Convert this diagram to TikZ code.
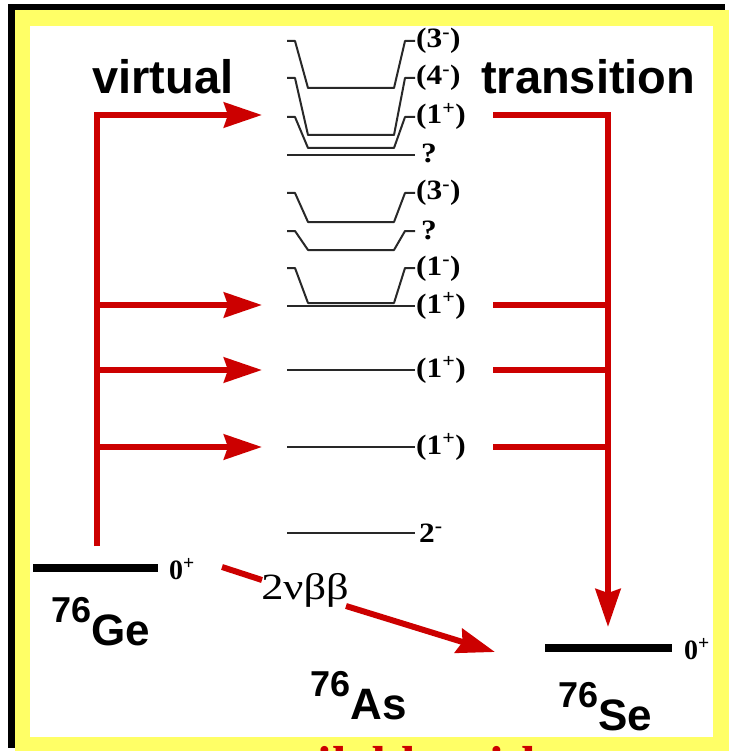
\documentclass[tikz,border=0pt]{standalone}
\usepackage{fontspec}
\setmainfont{Liberation Serif}
\setsansfont{Liberation Sans}
\usetikzlibrary{arrows.meta}
\definecolor{myred}{RGB}{204,0,0}
\definecolor{myyellow}{RGB}{255,255,102}
\definecolor{lvl}{RGB}{40,40,40}
\newcommand\mytrough[2]{%
  \draw[lvline] (287,#1) -- (295,#1) -- (308,#2) -- (394,#2) -- (405,#1) -- (415,#1);}
\newcommand\jp[1]{\scalebox{1.12}[1]{#1}}
\begin{document}
\begin{tikzpicture}[x=1pt,y=-1pt,
  redline/.style={draw=myred, line width=6pt},
  redarrow/.style={redline, -{Stealth[length=38pt,width=25pt,inset=4pt]}},
  lvline/.style={draw=lvl, line width=2pt, line join=round},
  gsbar/.style={draw=black, line width=8pt},
  jlabel/.style={anchor=base west, inner sep=0pt, font=\fontsize{28}{28}\selectfont\bfseries},
  bigsans/.style={anchor=base west, inner sep=0pt, font=\fontsize{47}{50}\selectfont\sffamily\bfseries},
  nucl/.style={anchor=base west, inner sep=0pt, font=\sffamily\bfseries},
]
\useasboundingbox (0,0) rectangle (731,751);
% frame
\fill[white] (0,0) rectangle (731,751);
\fill[myyellow] (15,10) rectangle (729,751);
\fill[white] (30,26) rectangle (713,737);
\fill[black] (8,4) rectangle (725,10);
\fill[black] (8,4) rectangle (15,748);
\begin{scope}
  \clip (15,737) rectangle (729,751);
  \node[anchor=base, inner sep=0pt, text=myred, font=\fontsize{52}{52}\selectfont\bfseries] (bottomtext) at (395,782) {available with};
\end{scope}

% headings
\node[bigsans] (virtual) at (92,94) {virtual};
\node[bigsans] (transition) at (481,94) {transition};

% intermediate levels of 76As
\mytrough{41}{88}
\mytrough{78}{135}
\mytrough{117}{148}
\draw[lvline] (287,155) -- (415,155);
\mytrough{193}{222}
\mytrough{231}{250}
\mytrough{268}{303}
\draw[lvline] (287,306) -- (415,306);
\draw[lvline] (287,370) -- (415,370);
\draw[lvline] (287,447) -- (415,447);
\draw[lvline] (287,533) -- (415,533);

\node[jlabel] (l1) at (416,48) {\jp{(3\textsuperscript{-})}};
\node[jlabel] (l2) at (416,85) {\jp{(4\textsuperscript{-})}};
\node[jlabel] (l3) at (416,124) {\jp{(1\textsuperscript{+})}};
\node[jlabel] (l4) at (421,163) {\jp{?}};
\node[jlabel] (l5) at (416,200) {\jp{(3\textsuperscript{-})}};
\node[jlabel] (l6) at (421,239) {\jp{?}};
\node[jlabel] (l7) at (416,275) {\jp{(1\textsuperscript{-})}};
\node[jlabel] (l8) at (416,313) {\jp{(1\textsuperscript{+})}};
\node[jlabel] (l9) at (416,377) {\jp{(1\textsuperscript{+})}};
\node[jlabel] (l10) at (416,454) {\jp{(1\textsuperscript{+})}};
\node[jlabel] (l11) at (419,542) {\jp{2\textsuperscript{-}}};

% ground states
\draw[gsbar] (33,568) -- (158,568);
\draw[gsbar] (545,648) -- (672,648);
\node[jlabel] (ge0) at (169,579) {0\textsuperscript{+}};
\node[jlabel] (se0) at (684,659) {0\textsuperscript{+}};

\node[nucl] (ge) at (51,622) {{\fontsize{36}{36}\selectfont 76}\raisebox{-23pt}{\fontsize{44}{44}\selectfont Ge}};
\node[nucl] (as) at (310,696) {{\fontsize{36}{36}\selectfont 76}\raisebox{-23pt}{\fontsize{44}{44}\selectfont As}};
\node[nucl] (se) at (558,707) {{\fontsize{36}{36}\selectfont 76}\raisebox{-23pt}{\fontsize{44}{44}\selectfont Se}};

% virtual transitions
\coordinate (gs) at (97,546);
\coordinate (v1) at (97,115);
\coordinate (v2) at (97,305);
\coordinate (v3) at (97,370);
\coordinate (v4) at (97,447);
\coordinate (t1) at (262,115);
\coordinate (t2) at (262,305);
\coordinate (t3) at (262,370);
\coordinate (t4) at (262,447);
\draw[redline, line cap=butt] (gs) -- (v1);
\draw[redarrow] ([xshift=-3pt]v1) -- (t1);
\draw[redarrow] (v2) -- (t2);
\draw[redarrow] (v3) -- (t3);
\draw[redarrow] (v4) -- (t4);

\coordinate (r1) at (493,115);
\coordinate (r2) at (493,305);
\coordinate (r3) at (493,370);
\coordinate (r4) at (493,447);
\coordinate (c1) at (608,115);
\coordinate (c2) at (608,305);
\coordinate (c3) at (608,370);
\coordinate (c4) at (608,447);
\coordinate (sein) at (608,627);
\draw[redline] (r1) -- ([xshift=3pt]c1);
\draw[redarrow] (c1) -- (sein);
\draw[redline] (r2) -- (c2);
\draw[redline] (r3) -- (c3);
\draw[redline] (r4) -- (c4);

% 2 nu beta beta
\coordinate (d0) at (222,567);
\coordinate (d1) at (262,580);
\coordinate (d2) at (346,606);
\coordinate (d3) at (495,652);
\draw[redline] (d0) -- (d1);
\draw[redarrow] (d2) -- (d3);
\node[inner sep=0pt, font=\fontsize{37}{37}\selectfont] (nbb) at (305,590) {\scalebox{1.2}[1]{2νββ}};
\end{tikzpicture}
\end{document}
